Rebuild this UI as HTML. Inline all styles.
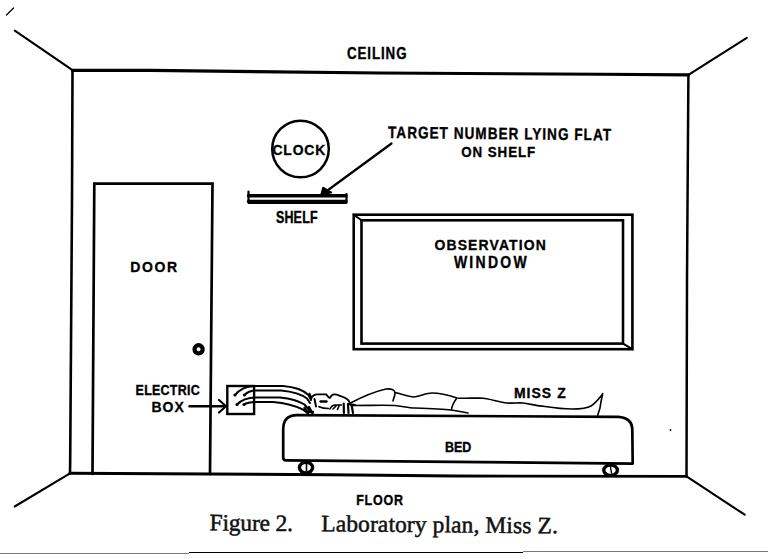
<!DOCTYPE html>
<html><head><meta charset="utf-8">
<style>
html,body{margin:0;padding:0;background:#fff;}
body{width:768px;height:559px;overflow:hidden;}
svg{display:block;}
.lb{font-family:"Liberation Sans",sans-serif;font-weight:bold;fill:#000;stroke:#000;stroke-width:0.3;}
.cap{font-family:"Liberation Serif",serif;fill:#111;stroke:#111;stroke-width:0.5;}
</style></head><body>
<svg width="768" height="559" viewBox="0 0 768 559">
<g fill="none" stroke="#000" stroke-linecap="round" stroke-linejoin="round">
  <!-- stray mark -->
  <line x1="6.5" y1="15" x2="13.5" y2="8" stroke-width="1.3"/>
  <!-- room -->
  <polyline points="72.5,70.4 150,70.4 380,73 600,74.3 688.4,74.9" stroke="#000" stroke-width="3.1"/>
  <polyline points="72.5,70.4 72,200 70.2,460 70,473.3" stroke="#000" stroke-width="2.6"/>
  <polyline points="688.4,74.9 687,280 686.5,476.4" stroke="#000" stroke-width="2.5"/>
  <polyline points="70,473.3 210,474 330,474.7 455,476 686.5,476.4" stroke="#000" stroke-width="2.9"/>
  <line x1="14.8" y1="30.6" x2="72.5" y2="70.2" stroke="#000" stroke-width="2.1"/>
  <line x1="746.8" y1="37.9" x2="688.4" y2="74.9" stroke="#000" stroke-width="2.1"/>
  <line x1="14.7" y1="506.5" x2="70" y2="473.3" stroke="#000" stroke-width="2.1"/>
  <line x1="744.7" y1="514.7" x2="686.5" y2="476.4" stroke="#000" stroke-width="2.1"/>
  <!-- door -->
  <path d="M92.5,474 L94.3,183.7 L212.5,183.7 L210,474" stroke="#000" stroke-width="2.7" stroke-linejoin="miter"/>
  <!-- door knob -->
  <circle cx="198.6" cy="349.3" r="4.1" stroke-width="4.2"/>
  <!-- clock -->
  <circle cx="300.5" cy="149" r="28.3" stroke="#000" stroke-width="2.5"/>
  <!-- shelf -->
  <path d="M248.5,191.5 L248.5,202.8 L346.5,202.8 L346.5,194" stroke="#000" stroke-width="2.2"/>
  <line x1="248.5" y1="195.7" x2="346" y2="195.7" stroke="#000" stroke-width="3.4"/>
  <line x1="248.5" y1="201.3" x2="346" y2="201.3" stroke="#000" stroke-width="3.2"/>
  <!-- target arrow -->
  <line x1="391.5" y1="143.5" x2="324" y2="193" stroke-width="2.2"/>
  <path d="M321,195 L323,187.5 L331.5,192.5 Z" fill="#000" stroke-width="1.5"/>
  <!-- window -->
  <rect x="353.7" y="214.7" width="278.7" height="134.5" stroke-width="2.6" stroke-linejoin="miter"/>
  <rect x="361.5" y="220.3" width="261.5" height="123.3" stroke-width="2.6" stroke-linejoin="miter"/>
  <line x1="353.7" y1="214.7" x2="361.5" y2="220.3" stroke-width="2"/>
  <line x1="632.4" y1="349.2" x2="623" y2="343.6" stroke-width="2"/>
  <circle cx="670.5" cy="430" r="0.9" fill="#000" stroke="none"/>
  <!-- electric box -->
  <rect x="227.3" y="386" width="26.8" height="28" stroke-width="2.4" stroke-linejoin="miter"/>
  <line x1="189.5" y1="406.2" x2="225" y2="406.2" stroke-width="2.4"/>
  <path d="M219,400 L226,406.2 L219,412.5" stroke-width="2.2"/>
  <!-- wires -->
  <path d="M235,395 C239,390 246,386.5 254,386 L283,386 C295,387 304,390.5 308.5,395 L311,400" stroke-width="2"/>
  <path d="M244.5,395 C247,392 251,390.5 256,390.4 L281,390.4 C293,391.5 302,394.5 307,398.5 L310,403" stroke-width="2"/>
  <path d="M237,404.5 C241,400 248,397.5 256,397.4 L280,397.4 C291,398.5 299,401 304.5,404.5 L309,410" stroke-width="2"/>
  <path d="M244,404.5 C247,402.5 252,402 258,402 L273,402 C285,403 296,406 303,409.7 L308,413" stroke-width="2"/>
  <circle cx="235" cy="395" r="1.6" fill="#000" stroke="none"/>
  <circle cx="244.5" cy="395" r="1.6" fill="#000" stroke="none"/>
  <circle cx="237" cy="404.5" r="1.6" fill="#000" stroke="none"/>
  <circle cx="244" cy="404.5" r="1.6" fill="#000" stroke="none"/>
  <!-- bed -->
  <path d="M283.2,457.5 L283.2,429 Q283.5,415.2 297,415.2 L618,416.8 Q632.3,417.5 632.3,430 L632.7,463.6 L286,460.3 Q283.2,460.3 283.2,457.5 Z" stroke="#000" stroke-width="2.7"/>
  <ellipse cx="306" cy="467.6" rx="6.6" ry="5.4" stroke="#000" stroke-width="3.4"/><line x1="306.5" y1="464.5" x2="306.5" y2="471" stroke-width="1.6"/>
  <ellipse cx="610.6" cy="470.2" rx="6.8" ry="5.2" stroke="#000" stroke-width="3.4"/><line x1="610.5" y1="467" x2="611.5" y2="473" stroke-width="1.4"/>
  <!-- person -->
  <path d="M304.5,408 L308,413.5 M309,407 L312.5,413.5 M306,411.5 L313,412" stroke-width="2.4"/>
  <path d="M309.5,393.5 C310.5,395 311,396.5 311.5,398.5" stroke-width="1.8"/>
  <path d="M311.4,397.5 C313,395.5 314.5,394.4 317,394.4 L326.3,394.4 C327.5,396 328.5,398 329.8,398 C331,396 332,394.5 334,394.4 C337,394.3 339,395.5 341.4,396.4 C344,397.3 346.6,398.2 348,400 C349,401 349.5,402 349.5,402.5" stroke-width="1.9"/>
  <path d="M314.5,399 L316,406.5" stroke-width="2"/>
  <path d="M320.6,401.5 L326.5,401.5" stroke-width="2.4"/>
  <path d="M318.9,406.7 C322,408 325.5,408.5 328.6,408.5" stroke-width="1.7"/>
  <path d="M330,409 C331.5,406 333,405 335,405 L341.4,405 M333,409 L336,406 M337.5,409.5 L339,406" stroke-width="1.6"/>
  <path d="M343.7,403.5 L343.9,413 M348,404 L348.5,413 M351.5,404.5 L353,413 M348,404 L355,405" stroke-width="2.2"/>
  <path d="M349.5,403.5 C360,398 372,392 386,389 C392,388.5 395,390 395,393 C395,397 393,399 393,401" stroke-width="1.6"/>
  <path d="M395,392.5 C402,394 408,397 414,397 C421,396 426,393 432,393 C440,393 448,395 457,398 C465,398.5 472,398 480,398 C490,398.5 498,402 507,403 C513,403.5 518,402.5 523,403 C530,404 537,406 545,406.5 C555,408 563,409 572,409 C580,409 586,409 591,406 C597,402 600,397 602.7,393.7 C601.5,399 600.5,404 600,408 L597.6,415.5" stroke-width="1.6"/>
  <path d="M351,405.5 C370,405.5 385,405 395,405.5 C402,406 408,408 415,408 C430,408.5 443,409 451,410 C458,411 463,412 468,413" stroke-width="1.6"/>
  <path d="M456.5,398.5 C454,402 452,405 451.5,409.5" stroke-width="1.6"/>
</g>
<!-- labels -->
<text class="lb" transform="translate(347.0,59.0) scale(1,1.2748)" x="0" y="0" font-size="13.34" textLength="59.5" lengthAdjust="spacing">CEILING</text>
<text class="lb" transform="rotate(0.6 388.0 138.0) translate(388.0,138.0) scale(1,1.2238)" x="0" y="0" font-size="13.54" textLength="223.0" lengthAdjust="spacing">TARGET NUMBER LYING FLAT</text>
<text class="lb" transform="translate(461.3,156.7) scale(1,1.1632)" x="0" y="0" font-size="13.37" textLength="73.9" lengthAdjust="spacing">ON SHELF</text>
<text class="lb" transform="translate(272.4,154.7) scale(1,1.1213)" x="0" y="0" font-size="13.87" textLength="52.9" lengthAdjust="spacing">CLOCK</text>
<text class="lb" transform="translate(275.9,223.0) scale(1,1.2791)" x="0" y="0" font-size="12.5" textLength="41.7" lengthAdjust="spacing">SHELF</text>
<text class="lb" transform="translate(434.5,249.7) scale(1,1.1149)" x="0" y="0" font-size="13.95" textLength="111.3" lengthAdjust="spacing">OBSERVATION</text>
<text class="lb" transform="translate(453.9,268.3) scale(1,1.1524)" x="0" y="0" font-size="14.0" textLength="72.7" lengthAdjust="spacing">WINDOW</text>
<text class="lb" transform="translate(130.3,272.0) scale(1,1.0901)" x="0" y="0" font-size="14.0" textLength="46.7" lengthAdjust="spacing">DOOR</text>
<text class="lb" transform="translate(135.6,394.7) scale(1,1.2442)" x="0" y="0" font-size="12.5" textLength="64.1" lengthAdjust="spacing">ELECTRIC</text>
<text class="lb" transform="translate(151.4,412.3) scale(1,1.0694)" x="0" y="0" font-size="14.0" textLength="32.4" lengthAdjust="spacing">BOX</text>
<text class="lb" transform="translate(513.9,398.2) scale(1,1.0590)" x="0" y="0" font-size="14.0" textLength="51.8" lengthAdjust="spacing">MISS Z</text>
<text class="lb" transform="translate(444.9,451.7) scale(1,1.1861)" x="0" y="0" font-size="12.5" textLength="26.5" lengthAdjust="spacing">BED</text>
<text class="lb" transform="translate(356.2,505.3) scale(1,1.1279)" x="0" y="0" font-size="12.5" textLength="46.8" lengthAdjust="spacing">FLOOR</text>
<text class="cap" transform="rotate(0.5 209.5 530.3) translate(209.5,530.3) scale(1,1.0)" x="0" y="0" font-size="23.5" textLength="83.5" lengthAdjust="spacing">Figure 2.</text>
<text class="cap" transform="rotate(0.5 209.5 530.3) translate(321.3,530.3) scale(1,1.0)" x="0" y="0" font-size="23.5" textLength="236.5" lengthAdjust="spacing">Laboratory plan, Miss Z.</text>
<!-- bottom rule -->
<rect x="0" y="553" width="189" height="1" fill="#7a7a7a"/>
<rect x="189" y="552" width="334" height="1" fill="#000"/>
<rect x="523" y="551" width="245" height="1" fill="#7a7a7a"/>
</svg>
</body></html>
